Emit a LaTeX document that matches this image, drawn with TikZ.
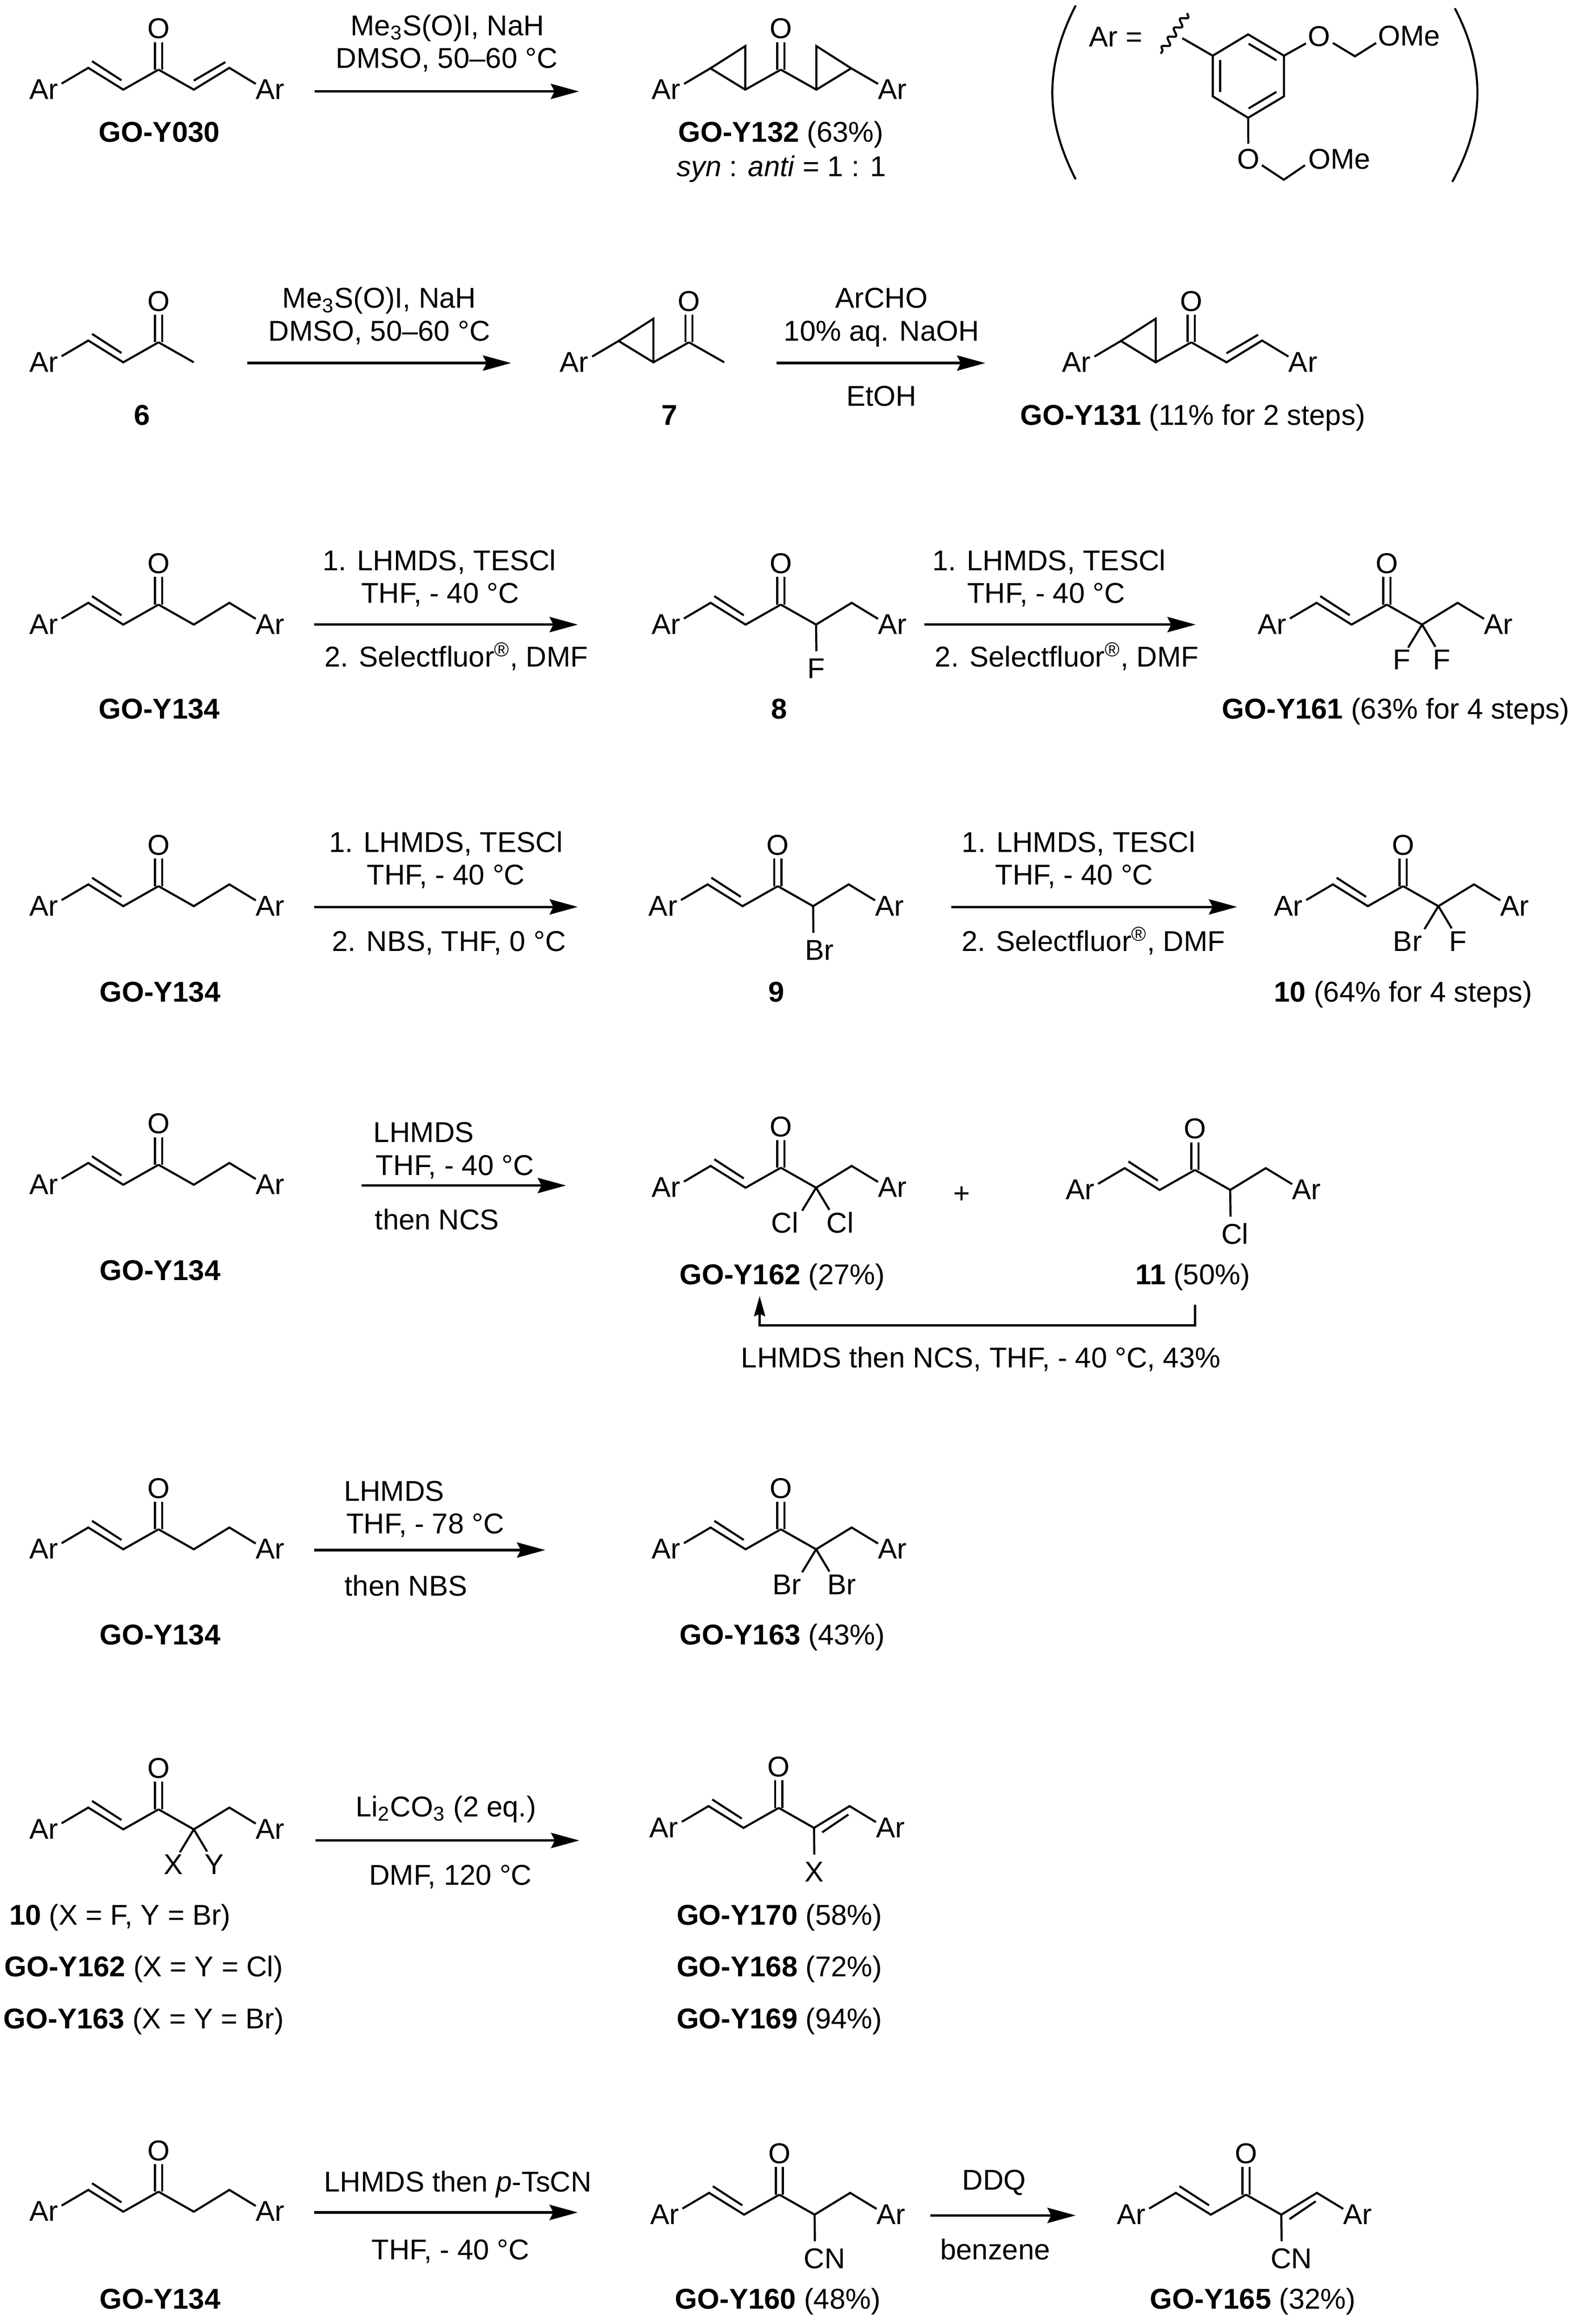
\documentclass[tikz,border=0pt]{standalone}
\usepackage{fontspec}
\setmainfont{Liberation Sans}
\usetikzlibrary{arrows.meta,decorations.pathmorphing}
\tikzset{
  txt/.style={font=\fontsize{14.5}{17}\selectfont,inner sep=0pt,anchor=base,yshift=-5.2pt},
  bond/.style={line width=1.05pt},
  rxn/.style={line width=1.25pt,-{Stealth[length=14.3pt,width=7.7pt,inset=1.9pt]}},
  rxnsmall/.style={line width=1.2pt,-{Stealth[length=10.3pt,width=5.6pt,inset=1.2pt]}}
}
\newcommand{\ketone}[3]{
  \coordinate (#1k) at (#2,#3);
  \coordinate (#1t) at (#2,#3-18.6);
  \node[txt] (#1O) at (#2,#3-28) {O};
  \draw[bond] ([xshift=-1.8pt]#1t) -- ([xshift=-1.8pt]#1k);
  \draw[bond] ([xshift=1.8pt]#1t) -- ([xshift=1.8pt]#1k);
}
\newcommand{\vinylL}[1]{
  \begin{scope}[shift={(#1k)}]
    \coordinate (#1l1) at (-23.8,13.5);
    \coordinate (#1l2) at (-47.4,-1.2);
    \coordinate (#1le) at (-65.4,9.4);
    \node[txt] (#1ArL) at (-77.5,13) {Ar};
    \draw[bond] (#1le) -- (#1l2) -- (#1l1) -- (#1k);
    \draw[bond] ([shift={(2.5,-4.5)}]#1l2) -- ([shift={(-1.2,-6.3)}]#1l1);
  \end{scope}
}
\newcommand{\cpL}[1]{
  \begin{scope}[shift={(#1k)}]
    \coordinate (#1l1) at (-24,13.5);
    \coordinate (#1l3) at (-24,-15.9);
    \coordinate (#1l2) at (-47.5,-0.9);
    \coordinate (#1le) at (-65.3,9.6);
    \node[txt] (#1ArL) at (-77.5,13) {Ar};
    \draw[bond] (#1le) -- (#1l2) -- (#1l1) -- (#1k);
    \draw[bond] (#1l2) -- (#1l3) -- (#1l1);
  \end{scope}
}
\newcommand{\ethylR}[1]{
  \begin{scope}[shift={(#1k)}]
    \coordinate (#1r1) at (23.8,13.5);
    \coordinate (#1r2) at (47.8,-1.2);
    \coordinate (#1re) at (65.6,9.6);
    \node[txt] (#1ArR) at (75.4,13) {Ar};
    \draw[bond] (#1k) -- (#1r1) -- (#1r2) -- (#1re);
  \end{scope}
}
\newcommand{\vinylR}[1]{
  \ethylR{#1}
  \draw[bond] ([shift={(0,-6.1)}]#1r1) -- ([shift={(-2.7,-3.9)}]#1r2);
}
\newcommand{\vinylRb}[1]{
  \ethylR{#1}
  \draw[bond] ([shift={(5.5,3)}]#1r1) -- ([shift={(-0.8,5.7)}]#1r2);
}
\newcommand{\cpR}[1]{
  \begin{scope}[shift={(#1k)}]
    \coordinate (#1r1) at (24,13.5);
    \coordinate (#1r3) at (24,-15.9);
    \coordinate (#1r2) at (47.5,-0.9);
    \coordinate (#1re) at (65.6,9.6);
    \node[txt] (#1ArR) at (75.4,13) {Ar};
    \draw[bond] (#1k) -- (#1r1) -- (#1r2) -- (#1re);
    \draw[bond] (#1r2) -- (#1r3) -- (#1r1);
  \end{scope}
}
\newcommand{\methylR}[1]{
  \coordinate (#1r1) at ([shift={(23.8,13.5)}]#1k);
  \draw[bond] (#1k) -- (#1r1);
}
% one group under the alpha carbon
\newcommand{\oneX}[3]{
  \coordinate (#1xe) at ([shift={(24,31.5)}]#1k);
  \node[txt] (#1X) at ([shift={(#3,43)}]#1k) {#2};
  \draw[bond] (#1r1) -- (#1xe);
}
% two groups under the alpha carbon
\newcommand{\twoX}[5]{
  \coordinate (#1xa) at ([shift={(14.4,29)}]#1k);
  \coordinate (#1xb) at ([shift={(32.8,28.5)}]#1k);
  \node[txt] (#1X) at ([shift={(#3,37)}]#1k) {#2};
  \node[txt] (#1Y) at ([shift={(#5,37)}]#1k) {#4};
  \draw[bond] (#1r1) -- (#1xa);
  \draw[bond] (#1r1) -- (#1xb);
}
\newcommand{\rxnline}[4]{
  \coordinate (#1s) at (#2,#4);
  \coordinate (#1e) at (#3,#4);
  \draw[rxn] (#1s) -- (#1e);
}
\begin{document}
\begin{tikzpicture}[x=0.75pt,y=-0.75pt]
  \useasboundingbox (0,0) rectangle (1067,1568.3);

  % first row
  \ketone{go30}{107}{47} \vinylL{go30} \vinylR{go30}
  \node[txt] (go30n) at (107.5,89) {\textbf{GO-Y030}};
  \rxnline{a1}{212.5}{390.8}{61.7}
  \node[txt] (a1t) at (302,17) {Me\textsubscript{3}S(O)I, NaH};
  \node[txt] (a1u) at (301.5,39) {DMSO, 50–60 °C};
  \ketone{go132}{527}{47} \cpL{go132} \cpR{go132}
  \node[txt] (go132n) at (527,89) {\textbf{GO-Y132} (63\%)};
  \node[txt] (go132r) at (527.5,112) {\textit{syn} : \textit{anti} = 1 : 1};

  % aryl group
  \coordinate (pl1) at (726,3.7);
  \coordinate (pl2) at (726,121);
  \coordinate (pr1) at (981.9,5.6);
  \coordinate (pr2) at (980.2,122.7);
  \draw[bond] (pl1) .. controls (705,45) and (705,80) .. (pl2);
  \draw[bond] (pr1) .. controls (1002.5,45) and (1002.5,82) .. (pr2);
  \node[txt] (arlab) at (753,24.6) {Ar =};
  \draw
    (842.4,23.2) coordinate (r1)
    (866.6,37.6) coordinate (r2)
    (866.6,65) coordinate (r3)
    (842.4,79.5) coordinate (r4)
    (818.5,65) coordinate (r5)
    (818.5,37.6) coordinate (r6)
    (798,25.8) coordinate (w1)
    (801.5,8.8) coordinate (w2)
    (783.4,36.2) coordinate (w3)
    (881.4,29.3) coordinate (o1a)
    (899.6,29) coordinate (o1b)
    (914.5,38) coordinate (o1c)
    (928.8,29) coordinate (o1d)
    (842.5,97) coordinate (o2a)
    (851.7,111.5) coordinate (o2b)
    (866.5,121.3) coordinate (o2c)
    (880.8,111.5) coordinate (o2d);
  \node[txt] (o1) at (890.3,24.2) {O};
  \node[txt] (ome1) at (951,24) {OMe};
  \node[txt] (o2) at (842.5,107) {O};
  \node[txt] (ome2) at (904,107) {OMe};
  \begin{scope}[bond]
    \draw (r1) -- (r2) -- (r3) -- (r4) -- (r5) -- (r6) -- cycle;
    \draw ([shift={(0.3,6.3)}]r1) -- ([shift={(-5.1,3)}]r2);
    \draw ([shift={(-5.1,-3)}]r3) -- ([shift={(0.3,-6.3)}]r4);
    \draw ([shift={(5,3)}]r6) -- ([shift={(5,-3)}]r5);
    \draw (r6) -- (w1);
    \draw (r2) -- (o1a);
    \draw (o1b) -- (o1c) -- (o1d);
    \draw (r4) -- (o2a);
    \draw (o2b) -- (o2c) -- (o2d);
    \draw[decorate,decoration={snake,amplitude=1.6pt,segment length=5.6pt}] (w2) -- (w3);
  \end{scope}

  % second row
  \ketone{six}{107}{231} \vinylL{six} \methylR{six}
  \node[txt] (sixn) at (96,280) {\textbf{6}};
  \rxnline{a2}{167}{345}{245}
  \node[txt] (a2t) at (256,201) {Me\textsubscript{3}S(O)I, NaH};
  \node[txt] (a2u) at (256,223) {DMSO, 50–60 °C};
  \ketone{sev}{465}{231} \cpL{sev} \methylR{sev}
  \node[txt] (sevn) at (452,280) {\textbf{7}};
  \rxnline{a3}{524}{665}{245}
  \node[txt] (a3t) at (595,201) {ArCHO};
  \node[txt] (a3u) at (595,223) {10\% aq. NaOH};
  \node[txt] (a3v) at (595,267) {EtOH};
  \ketone{go131}{804}{231} \cpL{go131} \vinylR{go131}
  \node[txt] (go131n) at (805,280) {\textbf{GO-Y131} (11\% for 2 steps)};

  % third row
  \ketone{rowc}{107}{408} \vinylL{rowc} \ethylR{rowc}
  \node[txt] (rowcn) at (107.5,478) {\textbf{GO-Y134}};
  \rxnline{a4}{212}{390}{421.5}
  \node[txt] (a4t) at (296.5,378) {1. LHMDS, TESCl};
  \node[txt] (a4u) at (297,400) {THF, - 40 °C};
  \node[txt] (a4v) at (308,443) {2. Selectfluor\textsuperscript{®}, DMF};
  \ketone{eig}{527}{408} \vinylL{eig} \ethylR{eig} \oneX{eig}{F}{24}
  \node[txt] (eign) at (526,478) {\textbf{8}};
  \rxnline{a5}{624}{807}{421.5}
  \node[txt] (a5t) at (708,378) {1. LHMDS, TESCl};
  \node[txt] (a5u) at (706,400) {THF, - 40 °C};
  \node[txt] (a5v) at (720,443) {2. Selectfluor\textsuperscript{®}, DMF};
  \ketone{go161}{936}{408} \vinylL{go161} \ethylR{go161} \twoX{go161}{F}{10}{F}{37}
  \node[txt] (go161n) at (942,478) {\textbf{GO-Y161} (63\% for 4 steps)};

  % fourth row
  \ketone{rowd}{107}{598} \vinylL{rowd} \ethylR{rowd}
  \node[txt] (rowdn) at (108,669) {\textbf{GO-Y134}};
  \rxnline{a6}{212}{390}{612}
  \node[txt] (a6t) at (301,568) {1. LHMDS, TESCl};
  \node[txt] (a6u) at (301,590) {THF, - 40 °C};
  \node[txt] (a6v) at (303,635) {2. NBS, THF, 0 °C};
  \ketone{nin}{525}{598} \vinylL{nin} \ethylR{nin} \oneX{nin}{Br}{28}
  \node[txt] (ninn) at (524,669) {\textbf{9}};
  \rxnline{a7}{642}{835}{612}
  \node[txt] (a7t) at (728,568) {1. LHMDS, TESCl};
  \node[txt] (a7u) at (725,590) {THF, - 40 °C};
  \node[txt] (a7v) at (738,635) {2. Selectfluor\textsuperscript{®}, DMF};
  \ketone{ten}{947}{598} \vinylL{ten} \ethylR{ten} \twoX{ten}{Br}{3}{F}{37}
  \node[txt] (tenn) at (947,669) {\textbf{10} (64\% for 4 steps)};

  % fifth row
  \ketone{rowe}{107}{786} \vinylL{rowe} \ethylR{rowe}
  \node[txt] (rowen) at (108,857) {\textbf{GO-Y134}};
  \rxnline{a8}{244}{382}{800}
  \node[txt] (a8t) at (286,764) {LHMDS};
  \node[txt] (a8u) at (307,786) {THF, - 40 °C};
  \node[txt] (a8v) at (295,823) {then NCS};
  \ketone{go162}{527}{788} \vinylL{go162} \ethylR{go162} \twoX{go162}{Cl}{2.7}{Cl}{40}
  \node[txt] (go162n) at (528,860) {\textbf{GO-Y162} (27\%)};
  \node[txt] (plus) at (649,805) {+};
  \ketone{ele}{806.5}{789.5} \vinylL{ele} \ethylR{ele} \oneX{ele}{Cl}{27}
  \node[txt] (elen) at (805,860) {\textbf{11} (50\%)};
  \coordinate (b1) at (806.7,880.3);
  \coordinate (b2) at (512.7,874.5);
  \draw[rxnsmall] (b1) -- (806.7,894.5) -| (b2);
  \node[txt] (b1t) at (662,916) {LHMDS then NCS, THF, - 40 °C, 43\%};

  % sixth row
  \ketone{rowf}{107}{1032} \vinylL{rowf} \ethylR{rowf}
  \node[txt] (rowfn) at (108,1103) {\textbf{GO-Y134}};
  \rxnline{a9}{212}{368}{1046}
  \node[txt] (a9t) at (266,1006) {LHMDS};
  \node[txt] (a9u) at (287,1028) {THF, - 78 °C};
  \node[txt] (a9v) at (274,1070) {then NBS};
  \ketone{go163}{527}{1032} \vinylL{go163} \ethylR{go163} \twoX{go163}{Br}{4}{Br}{41}
  \node[txt] (go163n) at (528,1103) {\textbf{GO-Y163} (43\%)};

  % seventh row
  \ketone{rowg}{107}{1221} \vinylL{rowg} \ethylR{rowg} \twoX{rowg}{X}{10}{Y}{37.5}
  \node[txt] (rowgl) at (81,1292) {\textbf{10} (X = F, Y = Br)};
  \node[txt] (rowgm) at (97,1327) {\textbf{GO-Y162} (X = Y = Cl)};
  \node[txt] (rowgn) at (97,1362) {\textbf{GO-Y163} (X = Y = Br)};
  \rxnline{a10}{213}{391}{1242}
  \node[txt] (a10t) at (301,1219) {Li\textsubscript{2}CO\textsubscript{3} (2 eq.)};
  \node[txt] (a10u) at (304,1265) {DMF, 120 °C};
  \ketone{go170}{525.6}{1220} \vinylL{go170} \vinylRb{go170} \oneX{go170}{X}{24}
  \node[txt] (go170n) at (526,1292) {\textbf{GO-Y170} (58\%)};
  \node[txt] (go168n) at (526,1327) {\textbf{GO-Y168} (72\%)};
  \node[txt] (go169n) at (526,1362) {\textbf{GO-Y169} (94\%)};

  % last row
  \ketone{rowh}{107}{1479} \vinylL{rowh} \ethylR{rowh}
  \node[txt] (rowhn) at (108,1551) {\textbf{GO-Y134}};
  \rxnline{a11}{212}{390}{1493}
  \node[txt] (a11t) at (309,1472) {LHMDS then \textit{p}-TsCN};
  \node[txt] (a11u) at (304,1518) {THF, - 40 °C};
  \ketone{go160}{526}{1481} \vinylL{go160} \ethylR{go160} \oneX{go160}{CN}{30.5}
  \node[txt] (go160n) at (525,1551) {\textbf{GO-Y160} (48\%)};
  \rxnline{a12}{628}{726}{1495}
  \node[txt] (a12t) at (671,1471) {DDQ};
  \node[txt] (a12u) at (671.7,1518) {benzene};
  \ketone{go165}{841}{1481} \vinylL{go165} \vinylRb{go165} \oneX{go165}{CN}{30.5}
  \node[txt] (go165n) at (845.6,1551) {\textbf{GO-Y165} (32\%)};
\end{tikzpicture}
\end{document}
